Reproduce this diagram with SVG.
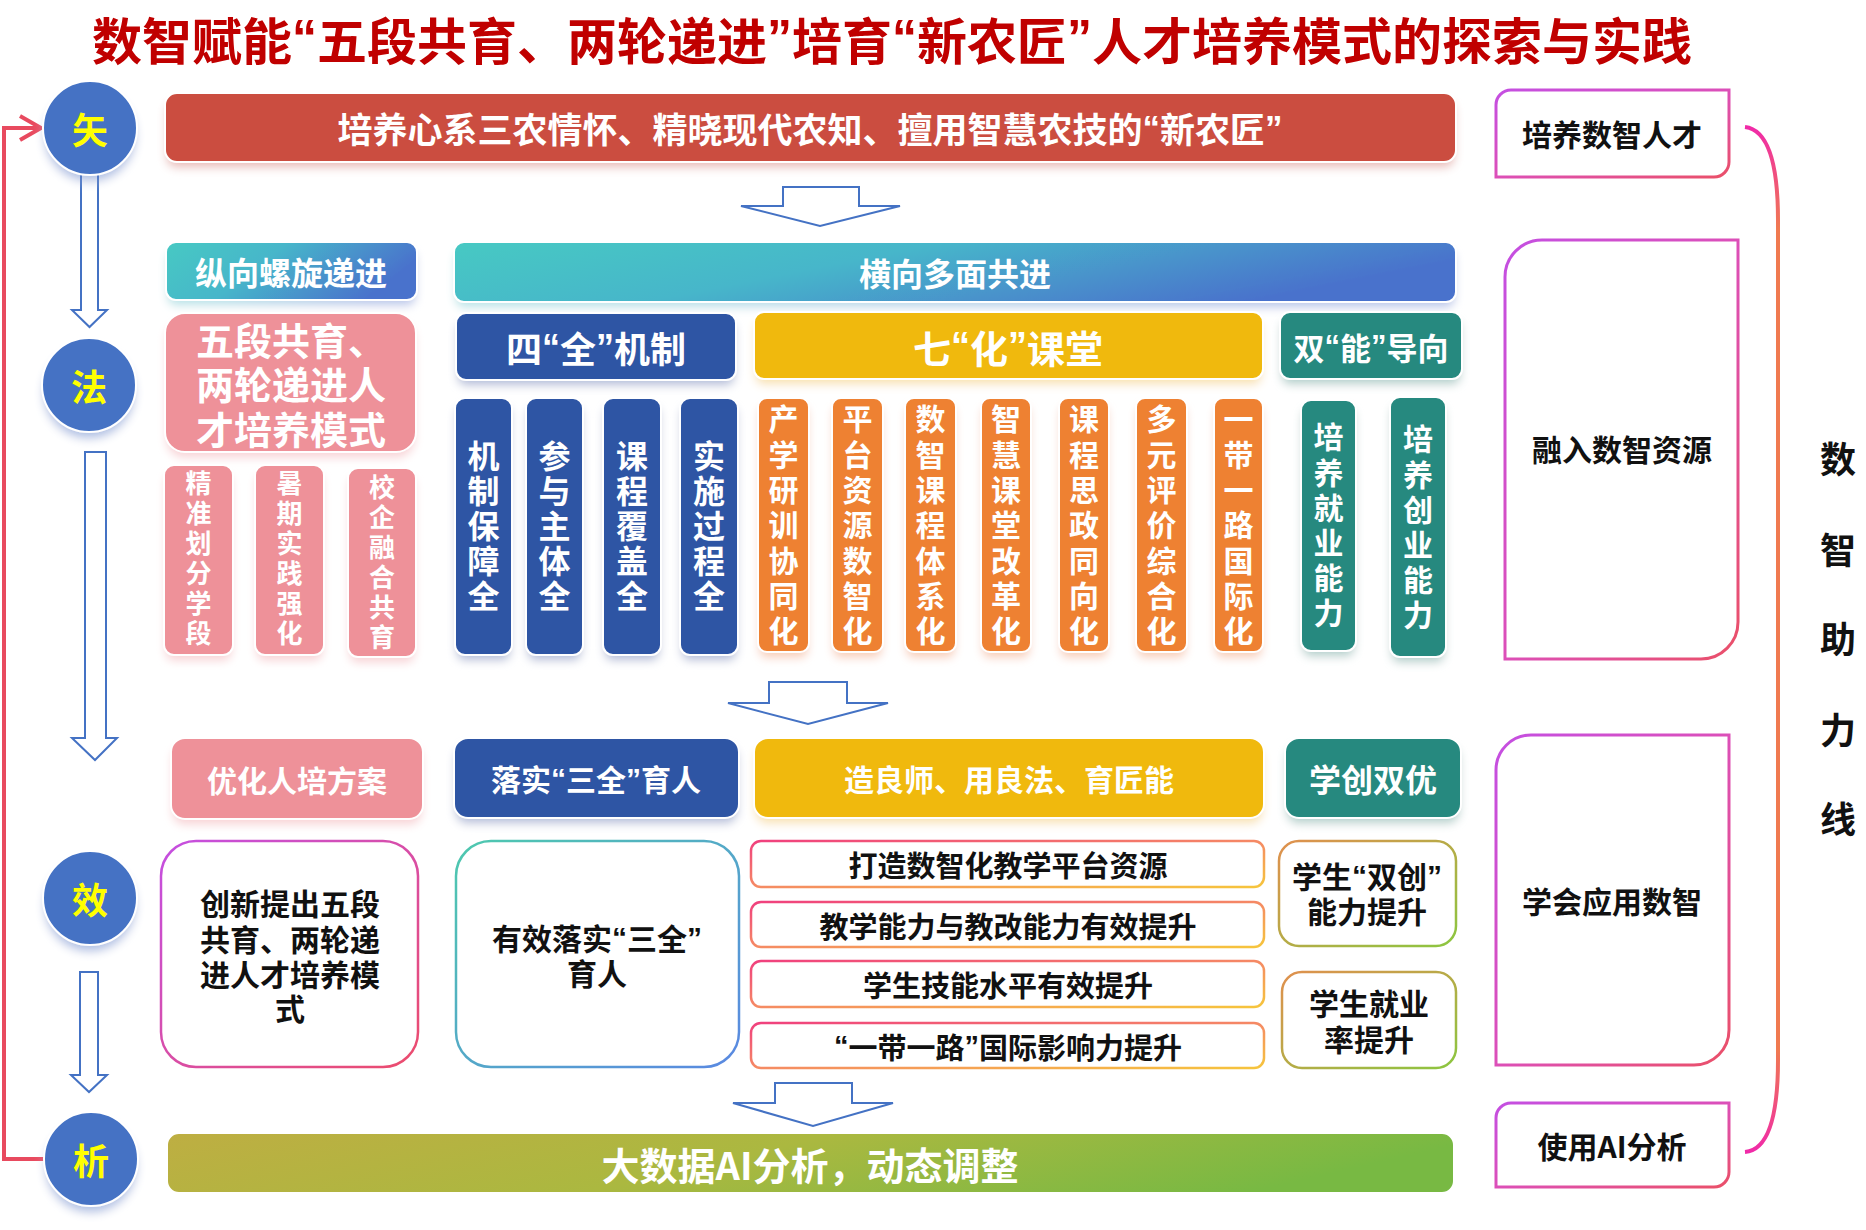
<svg xmlns="http://www.w3.org/2000/svg" width="1866" height="1230" viewBox="0 0 1866 1230">
<style>
text{font-family:"Noto Sans CJK SC","Noto Sans",sans-serif;font-weight:700;text-anchor:middle;dominant-baseline:central}
.q{font-family:"Liberation Sans","Noto Sans",sans-serif;font-weight:700}
.v{writing-mode:vertical-rl;text-orientation:upright}
.w{fill:#fff}
.k{fill:#111}
.y{fill:#FFFF00;font-size:36px}
.circ{fill:#4472C4;stroke:#fff;stroke-width:2;filter:url(#shc)}
.arr{fill:#fff;stroke:#4472C4;stroke-width:2;stroke-linejoin:miter}
.pk{fill:#EE9199;stroke:#fff;stroke-width:2;filter:url(#sh)}
.bl{fill:#2F55A4;stroke:#fff;stroke-width:2;filter:url(#sh)}
.yl{fill:#F0B90B;stroke:#fff;stroke-width:2;filter:url(#sh)}
.tl{fill:#25897F;stroke:#fff;stroke-width:2;filter:url(#sh)}
.or{fill:#EE8133;stroke:#fff;stroke-width:2;filter:url(#sh)}
.ob{fill:#fff;stroke:url(#gOut);stroke-width:2.5}
.rb{fill:#fff;stroke:url(#gPur);stroke-width:3}
</style>
<defs>
<filter id="sh" x="-50%" y="-30%" width="200%" height="170%">
<feGaussianBlur in="SourceGraphic" stdDeviation="5"/>
<feOffset dy="7" result="b"/>
<feComponentTransfer in="b" result="c"><feFuncA type="linear" slope="0.4"/></feComponentTransfer>
<feMerge><feMergeNode in="c"/><feMergeNode in="SourceGraphic"/></feMerge>
</filter>
<filter id="shc" x="-50%" y="-50%" width="200%" height="220%">
<feGaussianBlur in="SourceGraphic" stdDeviation="5"/>
<feOffset dy="8" result="b"/>
<feComponentTransfer in="b" result="c"><feFuncA type="linear" slope="0.45"/></feComponentTransfer>
<feMerge><feMergeNode in="c"/><feMergeNode in="SourceGraphic"/></feMerge>
</filter>
<linearGradient id="gTeal" x1="0" y1="0" x2="1" y2="0.3">
<stop offset="0" stop-color="#47C9C3"/><stop offset="0.45" stop-color="#46B6CA"/><stop offset="1" stop-color="#4A72CC"/>
</linearGradient>
<linearGradient id="gOut" x1="0" y1="0" x2="1" y2="1">
<stop offset="0" stop-color="#F0407E"/><stop offset="0.5" stop-color="#F58A64"/><stop offset="1" stop-color="#F6C53C"/>
</linearGradient>
<linearGradient id="gPur" x1="0" y1="0" x2="1" y2="1">
<stop offset="0" stop-color="#C44FE2"/><stop offset="0.5" stop-color="#DC4FB8"/><stop offset="1" stop-color="#EA5068"/>
</linearGradient>
<linearGradient id="gPur2" x1="0" y1="0" x2="1" y2="1">
<stop offset="0" stop-color="#C44FE2"/><stop offset="1" stop-color="#EC4C6C"/>
</linearGradient>
<linearGradient id="gTB" x1="0" y1="0" x2="1" y2="1">
<stop offset="0" stop-color="#4EC9AE"/><stop offset="1" stop-color="#5A88E2"/>
</linearGradient>
<linearGradient id="gOG" x1="0" y1="0" x2="1" y2="1">
<stop offset="0" stop-color="#E0904E"/><stop offset="1" stop-color="#8CC640"/>
</linearGradient>
<linearGradient id="gGreen" x1="0" y1="0" x2="1" y2="0.2">
<stop offset="0" stop-color="#BEAE42"/><stop offset="0.5" stop-color="#ABB840"/><stop offset="1" stop-color="#78B943"/>
</linearGradient>
<linearGradient id="gBr" gradientUnits="userSpaceOnUse" x1="0" y1="127" x2="0" y2="1152">
<stop offset="0" stop-color="#F02AA8"/><stop offset="0.1" stop-color="#F07A50"/><stop offset="0.9" stop-color="#F07A50"/><stop offset="1" stop-color="#F02AA8"/>
</linearGradient>
</defs>
<rect width="1866" height="1230" fill="#fff"/>

<g id="title">
<text x="892" y="38" font-size="50" fill="#C00000" textLength="1600" lengthAdjust="spacingAndGlyphs">数智赋能<tspan class="q">“</tspan>五段共育、两轮递进<tspan class="q">”</tspan>培育<tspan class="q">“</tspan>新农匠<tspan class="q">”</tspan>人才培养模式的探索与实践</text>
</g>

<g id="connectors">
<path d="M47,1159 H4 V128 H40" fill="none" stroke="#E84A5F" stroke-width="4"/>
<polyline points="20,116 41,128 20,140" fill="none" stroke="#E84A5F" stroke-width="4"/>
<path class="arr" d="M81,174 H98 V310 H107 L89.5,327 L72,310 H81 Z"/>
<path class="arr" d="M85,452 H106 V738 H117 L95,760 L72,738 H85 Z"/>
<path class="arr" d="M80,972 H98 V1075 H107 L89,1092 L71,1075 H80 Z"/>
<path class="arr" d="M783,187 H859 V206 H900 L820,226 L741,206 H783 Z"/>
<path class="arr" d="M769,682 H847 V703 H888 L808,724 L728,703 H769 Z"/>
<path class="arr" d="M775,1083 H852 V1103 H893 L813,1126 L733,1103 H775 Z"/>
<path d="M1745,127 C1770,130 1778,170 1778,220 L1778,1060 C1778,1110 1770,1150 1745,1152" fill="none" stroke="url(#gBr)" stroke-width="4"/>
</g>

<g id="n-shi"><circle class="circ" cx="90" cy="128" r="47"/><text class="y" x="90" y="128">矢</text></g>
<g id="n-fa"><circle class="circ" cx="89" cy="385" r="47"/><text class="y" x="89" y="385">法</text></g>
<g id="n-xiao"><circle class="circ" cx="90" cy="898" r="47"/><text class="y" x="90" y="898">效</text></g>
<g id="n-xi"><circle class="circ" cx="91" cy="1159" r="47"/><text class="y" x="91" y="1159">析</text></g>

<g id="n-goal"><rect x="165" y="93" width="1291" height="69" rx="12" fill="#CB4E3F" stroke="#fff" stroke-width="2" filter="url(#sh)"/>
<text class="w" x="810" y="127" font-size="35">培养心系三农情怀、精晓现代农知、擅用智慧农技的<tspan class="q">“</tspan>新农匠<tspan class="q">”</tspan></text></g>

<g id="n-zongxiang"><rect x="166" y="242" width="251" height="58" rx="10" fill="url(#gTeal)" stroke="#fff" stroke-width="2" filter="url(#sh)"/>
<text class="w" x="291" y="271" font-size="32">纵向螺旋递进</text></g>
<g id="n-hengxiang"><rect x="454" y="242" width="1002" height="60" rx="10" fill="url(#gTeal)" stroke="#fff" stroke-width="2" filter="url(#sh)"/>
<text class="w" x="955" y="272" font-size="32">横向多面共进</text></g>

<g id="n-model"><rect class="pk" x="165" y="313" width="251" height="139" rx="20"/>
<text class="w" font-size="38" style="text-anchor:start"><tspan x="196" y="338">五段共育、</tspan><tspan x="196" y="382">两轮递进人</tspan><tspan x="196" y="427">才培养模式</tspan></text></g>

<g id="n-p1"><rect class="pk" x="164" y="465" width="69" height="190" rx="10"/>
<text class="w v" x="198.5" y="560" font-size="26" letter-spacing="4">精准划分学段</text></g>
<g id="n-p2"><rect class="pk" x="255" y="465" width="69" height="190" rx="10"/>
<text class="w v" x="289.5" y="560" font-size="26" letter-spacing="4">暑期实践强化</text></g>
<g id="n-p3"><rect class="pk" x="348" y="468" width="68" height="189" rx="10"/>
<text class="w v" x="382" y="564" font-size="26" letter-spacing="4">校企融合共育</text></g>

<g id="n-siquan"><rect class="bl" x="456" y="313" width="280" height="67" rx="10"/>
<text class="w" x="596" y="347" font-size="36">四<tspan class="q">“</tspan>全<tspan class="q">”</tspan>机制</text></g>
<g id="n-b1"><rect class="bl" x="455" y="398" width="57" height="257" rx="10"/>
<text class="w v" x="483.5" y="527.5" font-size="32" letter-spacing="3">机制保障全</text></g>
<g id="n-b2"><rect class="bl" x="526" y="398" width="57" height="257" rx="10"/>
<text class="w v" x="554.5" y="527.5" font-size="32" letter-spacing="3">参与主体全</text></g>
<g id="n-b3"><rect class="bl" x="603" y="398" width="58" height="257" rx="10"/>
<text class="w v" x="632" y="527.5" font-size="32" letter-spacing="3">课程覆盖全</text></g>
<g id="n-b4"><rect class="bl" x="680" y="398" width="58" height="257" rx="10"/>
<text class="w v" x="709" y="527.5" font-size="32" letter-spacing="3">实施过程全</text></g>

<g id="n-qihua"><rect class="yl" x="754" y="312" width="509" height="67" rx="10"/>
<text class="w" x="1008" y="346" font-size="38">七<tspan class="q">“</tspan>化<tspan class="q">”</tspan>课堂</text></g>
<g id="n-o1"><rect class="or" x="758" y="398" width="51" height="254" rx="9"/>
<text class="w v" x="783.5" y="527.5" font-size="30" letter-spacing="5.3">产学研训协同化</text></g>
<g id="n-o2"><rect class="or" x="832" y="398" width="51" height="254" rx="9"/>
<text class="w v" x="857.5" y="527.5" font-size="30" letter-spacing="5.3">平台资源数智化</text></g>
<g id="n-o3"><rect class="or" x="905" y="398" width="51" height="254" rx="9"/>
<text class="w v" x="930.5" y="527.5" font-size="30" letter-spacing="5.3">数智课程体系化</text></g>
<g id="n-o4"><rect class="or" x="981" y="398" width="50" height="254" rx="9"/>
<text class="w v" x="1006" y="527.5" font-size="30" letter-spacing="5.3">智慧课堂改革化</text></g>
<g id="n-o5"><rect class="or" x="1059" y="398" width="50" height="254" rx="9"/>
<text class="w v" x="1084" y="527.5" font-size="30" letter-spacing="5.3">课程思政同向化</text></g>
<g id="n-o6"><rect class="or" x="1136" y="398" width="51" height="254" rx="9"/>
<text class="w v" x="1161.5" y="527.5" font-size="30" letter-spacing="5.3">多元评价综合化</text></g>
<g id="n-o7"><rect class="or" x="1214" y="398" width="49" height="254" rx="9"/>
<text class="w v" x="1238.5" y="527.5" font-size="30" letter-spacing="5.3">一带一路国际化</text></g>

<g id="n-shuangneng"><rect class="tl" x="1280" y="312" width="182" height="67" rx="10"/>
<text class="w" x="1371" y="346" font-size="31">双<tspan class="q">“</tspan>能<tspan class="q">”</tspan>导向</text></g>
<g id="n-t1"><rect class="tl" x="1301" y="400" width="55" height="251" rx="10"/>
<text class="w v" x="1328.5" y="527.6" font-size="30" letter-spacing="5.2">培养就业能力</text></g>
<g id="n-t2"><rect class="tl" x="1390" y="397" width="56" height="260" rx="10"/>
<text class="w v" x="1418" y="529.6" font-size="30" letter-spacing="5.2">培养创业能力</text></g>

<g id="n-youhua"><rect class="pk" x="171" y="738" width="252" height="81" rx="14"/>
<text class="w" x="297" y="779" font-size="30">优化人培方案</text></g>
<g id="n-luoshi"><rect class="bl" x="454" y="738" width="285" height="80" rx="14"/>
<text class="w" x="596" y="778" font-size="30">落实<tspan class="q">“</tspan>三全<tspan class="q">”</tspan>育人</text></g>
<g id="n-zaoliang"><rect class="yl" x="754" y="738" width="510" height="80" rx="14"/>
<text class="w" x="1009" y="778" font-size="30">造良师、用良法、育匠能</text></g>
<g id="n-xuechuang"><rect class="tl" x="1285" y="738" width="176" height="80" rx="14"/>
<text class="w" x="1373" y="778" font-size="32">学创双优</text></g>

<g id="n-r1"><rect x="161" y="841" width="257" height="226" rx="35" fill="#fff" stroke="url(#gPur2)" stroke-width="2.5"/>
<text class="k" font-size="30"><tspan x="290" y="902">创新提出五段</tspan><tspan x="290" y="938">共育、两轮递</tspan><tspan x="290" y="973">进人才培养模</tspan><tspan x="290" y="1007">式</tspan></text></g>
<g id="n-r2"><rect x="456" y="841" width="283" height="226" rx="35" fill="#fff" stroke="url(#gTB)" stroke-width="2.5"/>
<text class="k" font-size="30"><tspan x="597" y="937">有效落实<tspan class="q">“</tspan>三全<tspan class="q">”</tspan></tspan><tspan x="597" y="972">育人</tspan></text></g>

<g id="n-r3"><rect class="ob" x="751" y="841" width="513" height="46" rx="10"/>
<text class="k" x="1008" y="864" font-size="29">打造数智化教学平台资源</text></g>
<g id="n-r4"><rect class="ob" x="751" y="902" width="513" height="45" rx="10"/>
<text class="k" x="1008" y="925" font-size="29">教学能力与教改能力有效提升</text></g>
<g id="n-r5"><rect class="ob" x="751" y="961" width="513" height="46" rx="10"/>
<text class="k" x="1008" y="984" font-size="29">学生技能水平有效提升</text></g>
<g id="n-r6"><rect class="ob" x="751" y="1023" width="513" height="45" rx="10"/>
<text class="k" x="1008" y="1046" font-size="29"><tspan class="q">“</tspan>一带一路<tspan class="q">”</tspan>国际影响力提升</text></g>

<g id="n-r7"><rect x="1279" y="841" width="177" height="105" rx="20" fill="#fff" stroke="url(#gOG)" stroke-width="2.5"/>
<text class="k" font-size="30"><tspan x="1367" y="875">学生<tspan class="q">“</tspan>双创<tspan class="q">”</tspan></tspan><tspan x="1367" y="910">能力提升</tspan></text></g>
<g id="n-r8"><rect x="1282" y="972" width="174" height="96" rx="20" fill="#fff" stroke="url(#gOG)" stroke-width="2.5"/>
<text class="k" font-size="30"><tspan x="1369" y="1002">学生就业</tspan><tspan x="1369" y="1038">率提升</tspan></text></g>

<g id="n-analysis"><rect x="167" y="1133" width="1287" height="60" rx="12" fill="url(#gGreen)" stroke="#fff" stroke-width="2"/>
<text class="w" x="810" y="1163" font-size="38">大数据AI分析，动态调整</text></g>

<g id="n-s1"><path class="rb" d="M1496,105 A15,15 0 0 1 1511,90 H1729 V162 A15,15 0 0 1 1714,177 H1496 Z"/>
<text class="k" x="1612" y="133" font-size="30">培养数智人才</text></g>
<g id="n-s2"><path class="rb" d="M1505,277 A37,37 0 0 1 1542,240 H1738 V622 A37,37 0 0 1 1701,659 H1505 Z"/>
<text class="k" x="1622" y="448" font-size="30">融入数智资源</text></g>
<g id="n-s3"><path class="rb" d="M1496,770 A35,35 0 0 1 1531,735 H1729 V1030 A35,35 0 0 1 1694,1065 H1496 Z"/>
<text class="k" x="1612" y="900" font-size="30">学会应用数智</text></g>
<g id="n-s4"><path class="rb" d="M1496,1118 A15,15 0 0 1 1511,1103 H1729 V1172 A15,15 0 0 1 1714,1187 H1496 Z"/>
<text class="k" x="1612" y="1145" font-size="30">使用AI分析</text></g>

<g id="n-line"><text class="k" font-size="36"><tspan x="1838" y="457">数</tspan><tspan x="1838" y="548">智</tspan><tspan x="1838" y="637">助</tspan><tspan x="1838" y="728">力</tspan><tspan x="1838" y="817">线</tspan></text></g>
</svg>
